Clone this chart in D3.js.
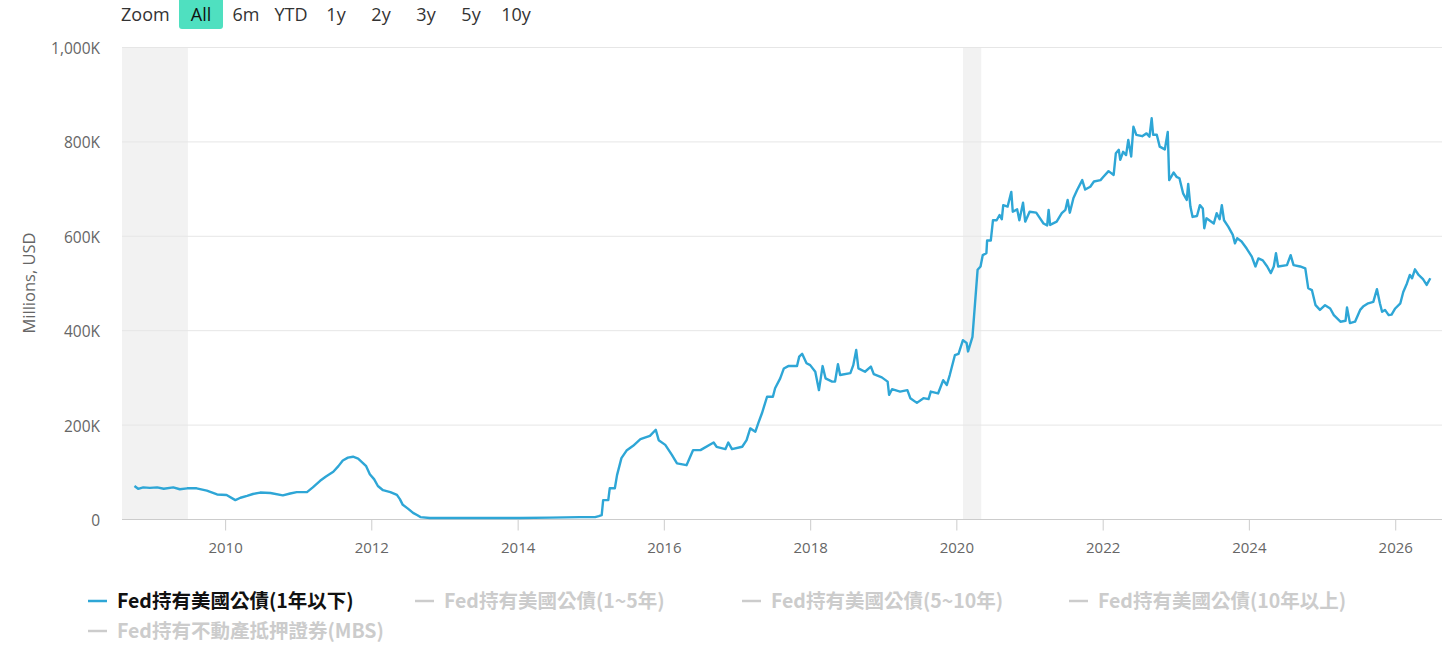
<!DOCTYPE html>
<html><head><meta charset="utf-8">
<script src="https://cdn.jsdelivr.net/npm/d3@7"></script>
<style>
body{margin:0;background:#fff;}
svg{display:block;}
</style></head>
<body>
<svg id="chart" width="1456" height="660"></svg>
<script>
// decimal-year dates and values (thousands of millions USD, i.e. "K")
const dates = [2008.76,2008.81,2008.88,2008.97,2009.07,2009.16,2009.29,2009.38,2009.48,2009.61,2009.75,2009.89,2010.02,2010.14,2010.21,2010.30,2010.38,2010.48,2010.62,2010.79,2010.89,2010.98,2011.12,2011.20,2011.30,2011.38,2011.48,2011.55,2011.61,2011.68,2011.75,2011.82,2011.89,2011.93,2011.98,2012.04,2012.09,2012.16,2012.26,2012.35,2012.39,2012.43,2012.50,2012.57,2012.63,2012.67,2012.80,2013.21,2013.62,2014.03,2014.44,2014.85,2015.06,2015.11,
2015.15,2015.17,2015.24,2015.26,2015.33,2015.36,2015.42,2015.49,2015.58,2015.68,2015.81,2015.89,2015.93,2016.02,2016.11,2016.18,2016.31,2016.40,2016.50,2016.68,2016.72,2016.84,2016.88,2016.93,2017.07,2017.13,2017.18,2017.25,2017.29,2017.34,2017.41,2017.49,2017.52,2017.59,2017.64,2017.70,2017.82,2017.85,2017.89,2017.95,2018.00,2018.07,2018.12,2018.17,2018.21,2018.30,2018.34,2018.38,2018.41,2018.55,2018.59,2018.63,2018.66,2018.75,2018.83,2018.87,2018.98,2019.06,2019.08,2019.12,2019.23,2019.33,2019.37,2019.46,2019.55,2019.62,2019.65,2019.75,2019.82,2019.87,2019.91,2019.98,2020.03,2020.09,2020.14,2020.16,2020.22,2020.29,2020.33,2020.36,2020.41,2020.42,2020.47,2020.50,2020.55,2020.59,2020.62,2020.64,2020.70,2020.75,2020.77,2020.83,2020.86,2020.91,2020.94,2021.00,2021.09,2021.19,2021.24,2021.26,2021.28,2021.37,2021.44,2021.49,2021.52,2021.55,2021.60,2021.65,2021.72,2021.76,2021.83,2021.88,2021.97,2022.01,2022.08,2022.15,2022.18,2022.22,2022.24,2022.28,2022.32,2022.35,2022.39,2022.42,2022.46,2022.54,2022.60,2022.64,2022.67,2022.69,2022.74,2022.78,2022.85,2022.89,2022.91,2022.97,2023.01,2023.05,2023.10,2023.15,2023.17,2023.20,2023.23,2023.29,2023.33,2023.37,2023.39,2023.42,2023.52,2023.56,2023.60,2023.63,2023.66,2023.72,2023.78,2023.81,2023.84,2023.90,2023.97,2024.04,2024.09,2024.13,2024.19,2024.25,2024.30,2024.34,2024.37,2024.40,2024.52,2024.57,2024.61,2024.70,2024.77,2024.81,2024.86,2024.91,2024.97,2025.04,2025.11,2025.16,2025.25,2025.32,2025.34,2025.38,2025.45,2025.52,2025.56,2025.63,2025.70,2025.75,2025.79,2025.82,2025.86,2025.91,2025.95,2026.00,2026.07,2026.11,2026.16,2026.20,2026.23,2026.27,2026.32,2026.38,2026.43,2026.48];
const values = [70,64,67,66,67,64,67,63,65,65,60,52,51,40,45,49,53,56,55,50,54,57,57,67,81,90,100,112,124,130,132,128,118,112,95,84,70,61,57,51,42,30,22,13,8,4,2,2,2,2,3,4,4,6,
8,40,40,65,65,93,129,145,155,169,176,189,167,157,136,118,114,146,146,162,153,148,162,148,153,167,192,185,203,224,259,259,277,298,319,324,324,344,350,330,326,312,273,324,298,291,291,328,305,309,326,358,319,312,323,307,300,291,263,275,270,273,256,246,256,254,270,266,294,284,305,347,350,379,373,355,386,528,535,559,563,590,590,633,633,644,635,665,662,693,651,656,633,670,630,651,649,626,622,655,623,630,648,655,676,649,680,697,718,698,704,715,718,725,737,729,775,782,761,778,771,803,768,831,814,811,817,810,849,814,814,789,783,820,718,734,725,722,690,676,710,662,640,642,665,658,616,637,626,648,635,665,633,619,602,584,595,588,573,556,535,552,548,535,521,535,563,535,538,559,538,535,531,489,485,453,443,453,446,432,418,420,448,415,418,443,450,457,460,487,457,439,443,432,433,446,457,481,499,517,510,529,517,508,496,510];
const yTicks = [0,200,400,600,800,1000];
const xTickYears = [2010,2012,2014,2016,2018,2020,2022,2024,2026];
const recessionBands = [[2007.92,2009.49],[2020.09,2020.34]];
const domainYears = [2008.59,2026.64];
const zoomButtons = ["All","6m","YTD","1y","2y","3y","5y","10y"];
const seriesNames = ["Fed持有美國公債(1年以下)","Fed持有美國公債(1~5年)","Fed持有美國公債(5~10年)","Fed持有美國公債(10年以上)","Fed持有不動產抵押證券(MBS)"];
const seriesVisible = [true,false,false,false,false];
const yAxisTitle = "Millions, USD";

const toDate = y => { const yr = Math.floor(y); const s = new Date(yr,0,1), e = new Date(yr+1,0,1); return new Date(+s + (y-yr)*(e-s)); };

const svg = d3.select("#chart");
const m = {left:122, right:14, top:47, bottom:141};
const W = 1456, H = 660;
const x = d3.scaleTime().domain(domainYears.map(toDate)).range([m.left, W-m.right]);
const y = d3.scaleLinear().domain([0,1000]).range([H-m.bottom, m.top]);
const font = "'Open Sans','Noto Sans',sans-serif";

// recession bands
const clampD = d => new Date(Math.max(+d, +x.domain()[0]));
svg.append("g").selectAll("rect").data(recessionBands).join("rect")
  .attr("x", d => x(clampD(toDate(d[0]))))
  .attr("width", d => x(toDate(d[1])) - x(clampD(toDate(d[0]))))
  .attr("y", m.top).attr("height", y(0)-m.top)
  .attr("fill", "#f2f2f2");

// gridlines
svg.append("g").selectAll("line").data(yTicks.filter(v=>v>0)).join("line")
  .attr("x1", m.left).attr("x2", W-m.right)
  .attr("y1", d=>y(d)+0.5).attr("y2", d=>y(d)+0.5)
  .attr("stroke", "#e6e6e6").attr("stroke-width",1);

// y axis labels
const yAxis = d3.axisLeft(y).tickValues(yTicks).tickSize(0).tickPadding(0)
  .tickFormat(v => v===0 ? "0" : d3.format(",")(v)+"K");
const gy = svg.append("g").attr("transform",`translate(${m.left-22},0)`).call(yAxis);
gy.select(".domain").remove();
gy.selectAll("text").attr("font-family",font).attr("font-size",15.5).attr("fill","#666").attr("dy","0.42em");

svg.append("text").attr("transform",`translate(35,${(m.top+y(0))/2}) rotate(-90)`)
  .attr("text-anchor","middle").attr("font-family",font).attr("font-size",16.5).attr("fill","#666")
  .text(yAxisTitle);

// x axis
const xAxis = d3.axisBottom(x).tickValues(xTickYears.map(toDate)).tickSize(11).tickPadding(12)
  .tickFormat(d3.timeFormat("%Y"));
const gx = svg.append("g").attr("transform",`translate(0,${y(0)+0.5})`).call(xAxis);
gx.select(".domain").attr("stroke","#ccc").attr("d",`M${m.left},0H${W-m.right}`);
gx.selectAll(".tick line").attr("stroke","#ccc");
gx.selectAll("text").attr("font-family",font).attr("font-size",15).attr("fill","#666");

// line
const pts = dates.map((d,i)=>({d:toDate(d), v:values[i]}));
svg.append("path").datum(pts)
  .attr("fill","none").attr("stroke","#2ea6d6").attr("stroke-width",2.4).attr("stroke-linejoin","round")
  .attr("d", d3.line().x(p=>x(p.d)).y(p=>y(p.v)));

// zoom buttons
svg.append("text").attr("x",121).attr("y",21).attr("font-family",font).attr("font-size",18).attr("fill","#333").text("Zoom");
const bx = d3.scaleBand().domain(zoomButtons).range([179, 179+45*zoomButtons.length]);
const bg = svg.append("g").selectAll("g").data(zoomButtons).join("g").attr("transform",d=>`translate(${bx(d)},0)`);
bg.filter(d=>d==="All").append("rect").attr("x",0).attr("y",-4).attr("width",44).attr("height",33).attr("rx",3).attr("fill","#4fe0c0");
bg.append("text").attr("x",22).attr("y",21).attr("text-anchor","middle").attr("font-family",font).attr("font-size",18)
  .attr("fill",d=>d==="All"?"#111":"#333").text(d=>d);

// legend
const lg = svg.append("g").selectAll("g").data(seriesNames).join("g")
  .attr("transform",(d,i)=>`translate(${88+327*(i%4)},${601+30*Math.floor(i/4)})`);
lg.append("line").attr("x1",0).attr("x2",19).attr("y1",0).attr("y2",0)
  .attr("stroke",(d,i)=>seriesVisible[i]?"#2ea6d6":"#ccc").attr("stroke-width",2.5);
lg.append("text").attr("x",29).attr("y",0).attr("dy","0.35em")
  .attr("font-family","'Noto Sans CJK TC','Noto Sans',sans-serif").attr("font-size",19.5).attr("font-weight","bold")
  .attr("fill",(d,i)=>seriesVisible[i]?"#111":"#ccc").text(d=>d);
</script>
</body></html>
